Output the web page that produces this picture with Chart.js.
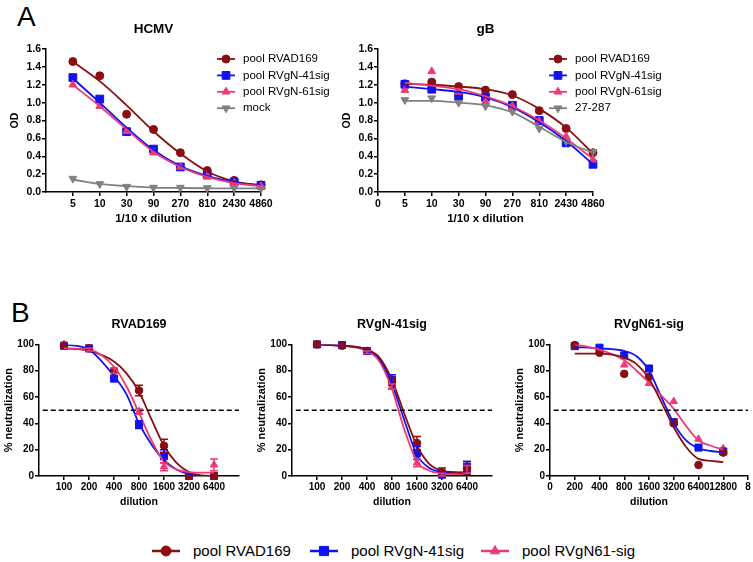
<!DOCTYPE html>
<html>
<head>
<meta charset="utf-8">
<script src="https://cdn.jsdelivr.net/npm/chart.js@4.4.1/dist/chart.umd.min.js"></script>
<style>
  html, body { margin: 0; padding: 0; background: #fff; overflow: hidden; width: 753px; height: 562px; }
  body { position: relative; font-family: "Liberation Sans", Arial, sans-serif; color: #000; }
  .box { position: absolute; }
  .tag { position: absolute; font-size: 28px; line-height: 1; }
  .li { position: absolute; top: 543px; height: 16px; line-height: 16px; font-size: 15px; white-space: nowrap; }
</style>
</head>
<body>
<div class="tag" style="left:17px;top:3px">A</div>
<div class="tag" style="left:11px;top:299px">B</div>

<div class="box" style="left:0;top:0"><canvas id="hcmv" width="345" height="228"></canvas></div>
<div class="box" style="left:332px;top:0"><canvas id="gb" width="345" height="228"></canvas></div>
<div class="box" style="left:0;top:290px"><canvas id="b1" width="250" height="222"></canvas></div>
<div class="box" style="left:253px;top:290px"><canvas id="b2" width="250" height="222"></canvas></div>
<div class="box" style="left:511px;top:290px"><canvas id="b3" width="290" height="222"></canvas></div>

<canvas class="li" id="lg0" width="30" height="16" style="left:151px"></canvas>
<span class="li" style="left:193px">pool RVAD169</span>
<canvas class="li" id="lg1" width="30" height="16" style="left:309px"></canvas>
<span class="li" style="left:351px">pool RVgN-41sig</span>
<canvas class="li" id="lg2" width="30" height="16" style="left:480px"></canvas>
<span class="li" style="left:522px">pool RVgN61-sig</span>

<script>
// ---- panel A: ELISA OD vs dilution (category positions 1..8)
const dilA = ['5', '10', '30', '90', '270', '810', '2430', '4860'];
const posA = [1, 2, 3, 4, 5, 6, 7, 8];

const hcmvAD169 = [1.46, 1.30, 0.87, 0.70, 0.44, 0.24, 0.13, 0.08];
const hcmvN41 = [1.28, 1.04, 0.675, 0.48, 0.28, 0.19, 0.11, 0.075];
const hcmvN61 = [1.20, 0.96, 0.68, 0.44, 0.28, 0.175, 0.10, 0.065];
const hcmvMock = [0.15, 0.09, 0.06, 0.05, 0.05, 0.045, 0.045, 0.04];
// fitted curves at the same dilutions
const hcmvFitAD169 = [1.46, 1.24, 0.97, 0.68, 0.43, 0.23, 0.12, 0.075];
const hcmvFitN41 = [1.27, 1.00, 0.72, 0.47, 0.29, 0.18, 0.11, 0.07];
const hcmvFitN61 = [1.20, 0.96, 0.70, 0.45, 0.28, 0.17, 0.10, 0.065];
const hcmvFitMock = [0.14, 0.09, 0.065, 0.05, 0.045, 0.042, 0.04, 0.04];

const gbAD169 = [1.21, 1.23, 1.18, 1.14, 1.09, 0.91, 0.71, 0.44];
const gbN41 = [1.205, 1.15, 1.07, 1.06, 0.97, 0.80, 0.55, 0.31];
const gbN61 = [1.14, 1.35, 1.12, 1.01, 0.96, 0.79, 0.62, 0.36];
const gb27287 = [1.03, 1.05, 1.00, 0.96, 0.90, 0.71, 0.57, 0.45];
const gbFitAD169 = [1.21, 1.20, 1.18, 1.15, 1.08, 0.93, 0.72, 0.43];
const gbFitN41 = [1.18, 1.15, 1.12, 1.06, 0.95, 0.78, 0.57, 0.31];
const gbFitN61 = [1.22, 1.19, 1.15, 1.07, 0.96, 0.80, 0.60, 0.37];
const gbFit27287 = [1.02, 1.02, 1.00, 0.97, 0.89, 0.73, 0.56, 0.44];

// ---- panel B: % neutralization vs dilution (log2 positions)
const dilB = ['100', '200', '400', '800', '1600', '3200', '6400'];
const dilB3 = ['0', '200', '400', '800', '1600', '3200', '6400', '12800', '8'];
const posB = [1, 2, 3, 4, 5, 6, 7];
const fitPos = [1, 2, 3, 3.5, 4, 4.5, 5, 5.5, 6, 6.5, 7];

const b1AD169 = [99, 97, 80, 65, 23, 0, 0];
const b1AD169Err = [0, 0, 0, 4, 5, 0, 0];
const b1N41 = [99, 97, 74, 39, 15, 0, 0];
const b1N41Err = [0, 1, 1, 3, 5, 0, 0];
const b1N61 = [100, 96, 80, 49, 7, 0, 8.5];
const b1N61Err = [0, 1, 2, 2, 3, 0, 4.5];
const b1FitAD169 = [97, 95, 87, 78, 64, 43, 23, 10, 3, 0.5, 0];
const b1FitN41 = [100, 96, 76, 62, 40, 24, 12, 5, 1.5, 0, 0];
const b1FitN61 = [97, 96, 83, 68, 48, 27, 11, 5, 3, 2.5, 2.5];

const b2AD169 = [100, 99, 95, 72, 25, 3, 6];
const b2AD169Err = [0, 0, 1, 3, 5, 3, 5];
const b2N41 = [100, 99.5, 95, 73, 17.5, 1, 7];
const b2N41Err = [0, 0, 1, 4, 5, 1, 4];
const b2N61 = [100, 99, 94, 68, 10, 1, 5];
const b2N61Err = [0, 0, 1, 2, 3, 1, 3];
const b2FitAD169 = [100, 99, 96, 90, 73, 47, 23, 9, 4, 3, 2.5];
const b2FitN41 = [100, 99, 96, 89, 70, 42, 16, 6, 3, 2.5, 2.5];
const b2FitN61 = [100, 99, 95, 87, 66, 35, 11, 4, 2, 1.5, 1.5];

const b3AD169 = [99.5, 93.6, 77.6, 75.3, 40, 8.4, 17.8];
const b3N41 = [98.7, 97.5, 91.6, 81.7, 40.9, 21.6, 18.6];
const b3N61 = [99, 95.8, 84.4, 70.4, 56.7, 28, 20.8];
const b3FitAD169 = [93, 93, 90, 85, 74, 56, 37, 22, 13, 11.5, 10.5];
const b3FitN41 = [98, 97, 95, 91, 80, 60, 40, 27, 21, 19, 18];
const b3FitN61 = [100, 96, 88, 80, 71, 61, 51, 38, 27, 23, 20];

const halfLine = [50, 50];
const halfPos = [0.15, 8];

const RED = '#8a0f12', BLUE = '#1212ee', PINK = '#ec3a76', GRAY = '#808080';
Chart.defaults.font.family = "'Liberation Sans', Arial, sans-serif";
Chart.defaults.color = '#000';

const pts = (xs, ys) => xs.map((x, i) => ({ x: x, y: ys[i] }));

function marks(ys, xs, color, style, r, errs, rot) {
  return {
    data: pts(xs, ys), showLine: false, clip: false,
    pointStyle: style, pointRadius: r, pointRotation: rot || 0,
    pointBackgroundColor: color, pointBorderColor: color, borderColor: color,
    pointBorderWidth: 1, errs: errs
  };
}
function fit(ys, xs, color) {
  return {
    data: pts(xs, ys), borderColor: color, borderWidth: 1.8,
    pointRadius: 0, cubicInterpolationMode: 'monotone'
  };
}

const errBars = {
  id: 'errBars',
  afterDatasetsDraw(chart) {
    const ctx = chart.ctx, ys = chart.scales.y;
    chart.data.datasets.forEach((ds, di) => {
      if (!ds.errs) return;
      const meta = chart.getDatasetMeta(di);
      ctx.save();
      ctx.strokeStyle = ds.borderColor;
      ctx.lineWidth = 1.5;
      meta.data.forEach((p, i) => {
        const e = ds.errs[i];
        if (!e) return;
        const v = ds.data[i].y;
        const y1 = ys.getPixelForValue(v + e);
        const y2 = ys.getPixelForValue(Math.max(0, v - e));
        ctx.beginPath();
        ctx.moveTo(p.x, y1); ctx.lineTo(p.x, y2);
        ctx.moveTo(p.x - 4, y1); ctx.lineTo(p.x + 4, y1);
        ctx.moveTo(p.x - 4, y2); ctx.lineTo(p.x + 4, y2);
        ctx.stroke();
      });
      ctx.restore();
    });
  }
};

function drawKey(ctx, x0, len, y, color, style, r, rot, lw) {
  ctx.save();
  ctx.strokeStyle = color;
  ctx.fillStyle = color;
  ctx.lineWidth = lw;
  ctx.beginPath(); ctx.moveTo(x0, y); ctx.lineTo(x0 + len, y); ctx.stroke();
  ctx.lineWidth = 1;
  Chart.helpers.drawPoint(ctx, { pointStyle: style, radius: r, rotation: rot || 0, borderWidth: 1 }, x0 + len / 2, y);
  ctx.restore();
}

// legend drawn next to the plot in panel A
function keyPlugin(items) {
  return {
    id: 'keyA',
    afterDraw(chart) {
      const ctx = chart.ctx;
      items.forEach((it, i) => {
        const y = 59 + i * 16.4;
        drawKey(ctx, 217, 18, y, it.color, it.style, it.r, it.rot, 1.8);
        ctx.save();
        ctx.fillStyle = '#000';
        ctx.font = "11.5px 'Liberation Sans', Arial, sans-serif";
        ctx.textBaseline = 'middle';
        ctx.fillText(it.text, 243, y);
        ctx.restore();
      });
    }
  };
}

const axisLine = { color: '#000', width: 1.5 };
const tickGrid = { display: true, drawOnChartArea: false, drawTicks: true, tickLength: 4, color: '#000', lineWidth: 1.5 };
const bold = (s) => ({ weight: 'bold', size: s });

function chartA(id, title, labels, firstTick, sets, keyItems) {
  const tickVals = [];
  for (let v = firstTick; v <= 8; v++) tickVals.push(v);
  return new Chart(document.getElementById(id), {
    type: 'line',
    data: { datasets: sets },
    options: {
      responsive: false, animation: false,
      layout: { padding: { top: 13, left: 0, right: 84, bottom: 0 } },
      plugins: {
        legend: { display: false }, tooltip: { enabled: false },
        title: { display: true, text: title, fullSize: false, font: bold(13.5), color: '#000', padding: { top: 8, bottom: 11.8 } }
      },
      scales: {
        x: {
          type: 'linear', min: 0, max: 8,
          afterBuildTicks: s => { s.ticks = tickVals.map(v => ({ value: v })); },
          ticks: { callback: v => labels[v - firstTick], font: bold(10.5), color: '#000', padding: 2, maxRotation: 0, autoSkip: false },
          grid: tickGrid, border: axisLine,
          title: { display: true, text: '1/10 x dilution', font: bold(11.5), color: '#000', padding: { top: 0, bottom: 2 } },
          afterFit: s => { s.height = 36; }
        },
        y: {
          min: 0, max: 1.6,
          ticks: { stepSize: 0.2, callback: v => v.toFixed(1), font: bold(10.5), color: '#000', padding: 1 },
          grid: tickGrid, border: axisLine,
          title: { display: true, text: 'OD', font: bold(10.5), color: '#000', padding: { top: 9 } },
          afterFit: s => { s.width = 46; }
        }
      }
    },
    plugins: [keyPlugin(keyItems)]
  });
}

function chartB(id, title, labels, firstTick, lastTick, sets, rightPad, plotW) {
  const tickVals = [];
  for (let v = firstTick; v <= lastTick; v++) tickVals.push(v);
  return new Chart(document.getElementById(id), {
    type: 'line',
    data: { datasets: [Object.assign(fit(halfLine, halfPos, '#000'), { borderDash: [5, 3], borderWidth: 1.5, cubicInterpolationMode: 'default' })].concat(sets) },
    options: {
      responsive: false, animation: false,
      layout: { padding: { top: 20, left: 0, right: rightPad, bottom: 0 } },
      plugins: {
        legend: { display: false }, tooltip: { enabled: false },
        title: { display: true, text: title, fullSize: false, font: bold(12.5), color: '#000', padding: { top: 7, bottom: 12.4 } }
      },
      scales: {
        x: {
          type: 'linear', min: 0, max: 8,
          afterBuildTicks: s => { s.ticks = tickVals.map(v => ({ value: v })); },
          ticks: { callback: v => labels[v - firstTick], font: bold(10), color: '#000', padding: 1, maxRotation: 0, autoSkip: false },
          grid: tickGrid, border: axisLine,
          title: { display: true, text: 'dilution', font: bold(10.5), color: '#000', padding: { top: 0, bottom: 3.5 } },
          afterFit: s => { s.height = 36; }
        },
        y: {
          min: 0, max: 100,
          ticks: { stepSize: 20, font: bold(10), color: '#000', padding: 1 },
          grid: tickGrid, border: axisLine,
          title: { display: true, text: '% neutralization', font: bold(11), color: '#000', padding: { top: 2 } },
          afterFit: s => { s.width = 39; }
        }
      }
    },
    plugins: [errBars]
  });
}

chartA('hcmv', 'HCMV', dilA, 1, [
  fit(hcmvFitMock, posA, GRAY), fit(hcmvFitN61, posA, PINK), fit(hcmvFitN41, posA, BLUE), fit(hcmvFitAD169, posA, RED),
  marks(hcmvMock, posA, GRAY, 'triangle', 4.5, null, 180),
  marks(hcmvN61, posA, PINK, 'triangle', 4.5),
  marks(hcmvN41, posA, BLUE, 'rect', 5.5),
  marks(hcmvAD169, posA, RED, 'circle', 4)
], [
  { text: 'pool RVAD169', color: RED, style: 'circle', r: 4 },
  { text: 'pool RVgN-41sig', color: BLUE, style: 'rect', r: 5.5 },
  { text: 'pool RVgN-61sig', color: PINK, style: 'triangle', r: 4.5 },
  { text: 'mock', color: GRAY, style: 'triangle', r: 4.5, rot: 180 }
]);

chartA('gb', 'gB', ['0'].concat(dilA), 0, [
  fit(gbFit27287, posA, GRAY), fit(gbFitN61, posA, PINK), fit(gbFitN41, posA, BLUE), fit(gbFitAD169, posA, RED),
  marks(gb27287, posA, GRAY, 'triangle', 4.5, null, 180),
  marks(gbN61, posA, PINK, 'triangle', 4.5),
  marks(gbN41, posA, BLUE, 'rect', 5.5),
  marks(gbAD169, posA, RED, 'circle', 4)
], [
  { text: 'pool RVAD169', color: RED, style: 'circle', r: 4 },
  { text: 'pool RVgN-41sig', color: BLUE, style: 'rect', r: 5.5 },
  { text: 'pool RVgN-61sig', color: PINK, style: 'triangle', r: 4.5 },
  { text: '27-287', color: GRAY, style: 'triangle', r: 4.5, rot: 180 }
]);

chartB('b1', 'RVAD169', dilB, 1, 7, [
  fit(b1FitN61, fitPos, PINK), fit(b1FitN41, fitPos, BLUE), fit(b1FitAD169, fitPos, RED),
  marks(b1AD169, posB, RED, 'circle', 3.8, b1AD169Err),
  marks(b1N41, posB, BLUE, 'rect', 5, b1N41Err),
  marks(b1N61, posB, PINK, 'triangle', 4.3, b1N61Err)
], 11);

chartB('b2', 'RVgN-41sig', dilB, 1, 7, [
  fit(b2FitAD169, fitPos, RED), fit(b2FitN41, fitPos, BLUE), fit(b2FitN61, fitPos, PINK),
  marks(b2AD169, posB, RED, 'circle', 3.8, b2AD169Err),
  marks(b2N41, posB, BLUE, 'rect', 5, b2N41Err),
  marks(b2N61, posB, PINK, 'triangle', 4.3, b2N61Err)
], 11);

chartB('b3', 'RVgN61-sig', dilB3, 0, 8, [
  fit(b3FitAD169, fitPos, RED), fit(b3FitN61, fitPos, PINK), fit(b3FitN41, fitPos, BLUE),
  marks(b3AD169, posB, RED, 'circle', 3.8),
  marks(b3N41, posB, BLUE, 'rect', 5),
  marks(b3N61, posB, PINK, 'triangle', 4.3)
], 53);

// bottom key
[[RED, 'circle', 5], [BLUE, 'rect', 6.5], [PINK, 'triangle', 5.5]].forEach((k, i) => {
  const c = document.getElementById('lg' + i);
  drawKey(c.getContext('2d'), 1, 28, 8, k[0], k[1], k[2], 0, 2.5);
});
</script>
</body>
</html>
